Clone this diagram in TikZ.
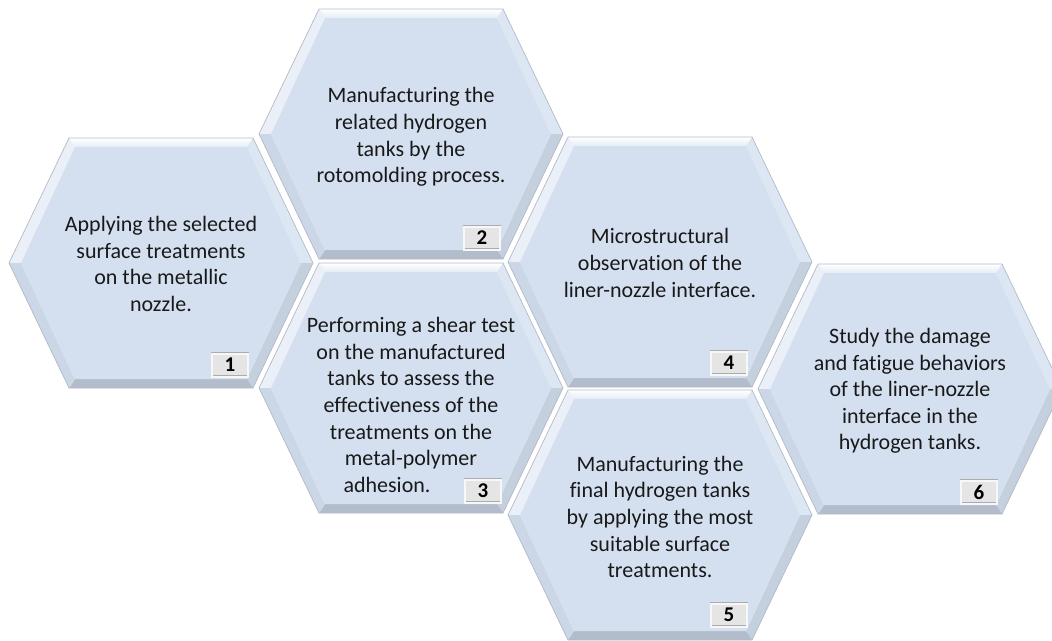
\documentclass[tikz,border=0pt]{standalone}
\usepackage{fontspec}
\setmainfont{Carlito}[Ligatures=NoCommon]
\usepackage{tikz}
\usetikzlibrary{calc}
\definecolor{hexFill}{RGB}{212,224,240}
\definecolor{hexEdge}{RGB}{178,186,198}
\tikzset{
  hexcell/.pic={
    % bevel facets, then the flat face
    \shade[top color=white, bottom color=hexFill!60!white] (-92,-125) -- (92,-125) -- (86,-116) -- (-86,-116) -- cycle;
    \fill[hexFill!50!white] (-152,0) -- (-92,-125) -- (-86,-116) -- (-140,0) -- cycle;
    \fill[hexFill!80!white] (92,-125) -- (152,0) -- (140,0) -- (86,-116) -- cycle;
    \fill[hexFill!93!black] (152,0) -- (92,125) -- (86,116) -- (140,0) -- cycle;
    \fill[hexFill!84!black] (92,125) -- (-92,125) -- (-86,116) -- (86,116) -- cycle;
    \fill[hexFill!96!black] (-92,125) -- (-152,0) -- (-140,0) -- (-86,116) -- cycle;
    \fill[hexFill] (-140,0) -- (-86,-116) -- (86,-116) -- (140,0) -- (86,116) -- (-86,116) -- cycle;
    \draw[hexEdge, line width=0.7pt] (-152,0) -- (-92,-125) -- (92,-125) -- (152,0) -- (92,125) -- (-92,125) -- cycle;
  },
  steptext/.style={align=center, text=black!90, font=\fontsize{22}{26.6}\selectfont},
  numbox/.style={draw=gray!65, double=gray!6, double distance=2pt, fill=gray!20,
    minimum width=36pt, minimum height=23pt, inner sep=0pt, font=\fontsize{21}{21}\selectfont\bfseries}
}

\begin{document}
\begin{tikzpicture}[x=1pt, y=-1pt]
  \useasboundingbox (0,0) rectangle (1052,640);
  \foreach \cx/\cy in {161/263, 411/134, 411/388, 660/262, 660/515, 910/389}
    \pic at (\cx,\cy) {hexcell};

  \node[steptext] (t1) at (161,264) {Applying the selected\\surface treatments\\on the metallic\\nozzle.};
  \node[steptext] (t2) at (411,137) {Manufacturing the\\related hydrogen\\tanks by the\\rotomolding process.};
  \node[steptext] (t3) at (411,405) {Performing a shear test\\on the manufactured\\tanks to assess the\\effectiveness of the\\treatments on the\\metal-polymer\\adhesion.\hspace*{48pt}};
  \node[steptext] (t4) at (660,263) {Microstructural\\observation of the\\liner-nozzle interface.};
  \node[steptext] (t5) at (660,517) {Manufacturing the\\final hydrogen tanks\\by applying the most\\suitable surface\\treatments.};
  \node[steptext] (t6) at (910,391) {Study the damage\\and fatigue behaviors\\of the liner-nozzle\\interface in the\\hydrogen tanks.};

  \node[numbox] (n1) at (230,365) {1};
  \node[numbox] (n2) at (482,238) {2};
  \node[numbox] (n3) at (483,491) {3};
  \node[numbox] (n4) at (729,363) {4};
  \node[numbox] (n5) at (729,615) {5};
  \node[numbox] (n6) at (979,492) {6};
\end{tikzpicture}
\end{document}
